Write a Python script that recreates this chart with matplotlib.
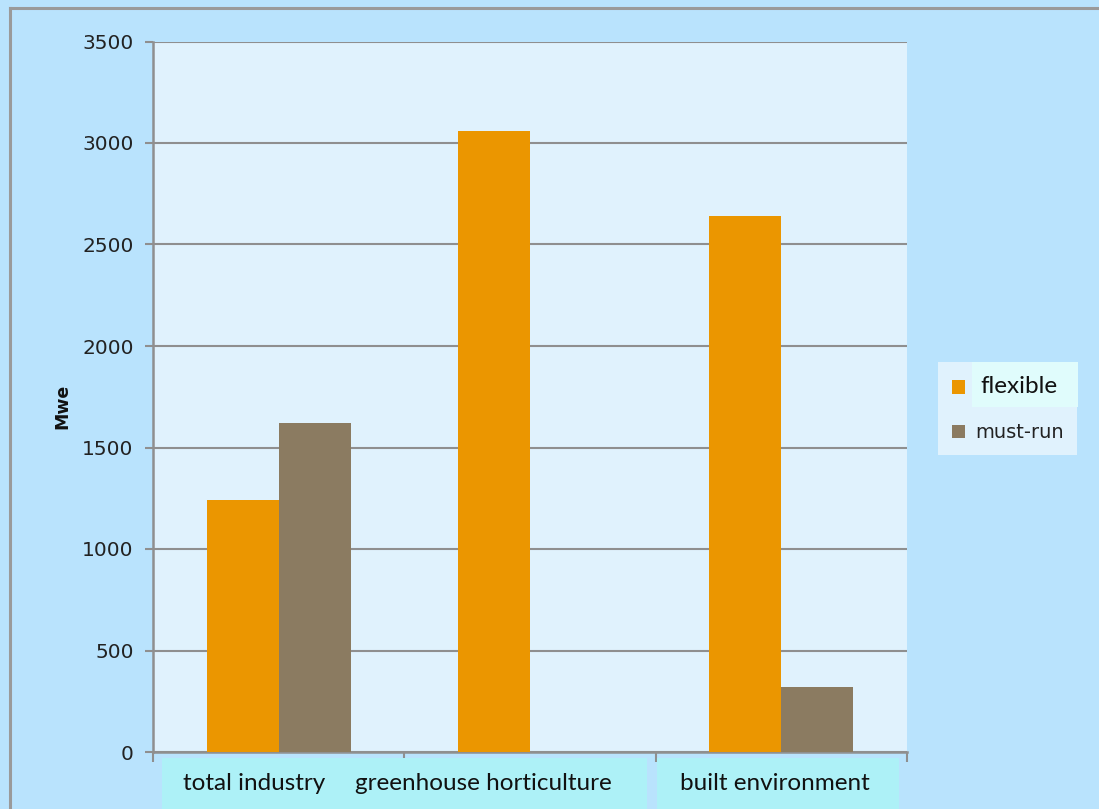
import matplotlib
matplotlib.use("Agg")
import matplotlib.pyplot as plt
import numpy as np
from matplotlib.patches import Rectangle
from matplotlib.lines import Line2D

categories = ["total industry", "greenhouse horticulture", "built environment"]
flexible = [1240, 3060, 2640]
must_run = [1620, 0, 320]
series_names = ["flexible", "must-run"]
y_ticks = [0, 500, 1000, 1500, 2000, 2500, 3000, 3500]
y_tick_labels = ["0", "500", "1000", "1500", "2000", "2500", "3000", "3500"]

W, H = 1099, 809
ORANGE = "#eb9600"
BROWN = "#8b7b61"
GRID = "#8f8f8f"


def fx(x):
    return x / W


def fy(y):
    return 1 - y / H


def box(x0, y0, x1, y1, color, **kw):
    fig.add_artist(Rectangle((fx(x0), fy(y1)), fx(x1) - fx(x0), fy(y0) - fy(y1),
                             transform=fig.transFigure, facecolor=color,
                             edgecolor="none", **kw))


fig = plt.figure(figsize=(W / 100, H / 100), dpi=100)
fig.patch.set_facecolor("#b9e3fd")

# outer chart border
fig.add_artist(Line2D([fx(10), fx(10)], [fy(8), 0], transform=fig.transFigure,
                      color="#9a9a9a", lw=2.2))
fig.add_artist(Line2D([fx(10), 1], [fy(8), fy(8)], transform=fig.transFigure,
                      color="#9a9a9a", lw=2.2))

ax = fig.add_axes([fx(153), fy(752), fx(907) - fx(153), fy(41.5) - fy(752)])
ax.set_facecolor("#e0f2fd")

x = np.arange(len(categories))
w = 0.287
ax.bar(x - w / 2, flexible, w, color=ORANGE, zorder=3, label=series_names[0])
ax.bar(x + w / 2, must_run, w, color=BROWN, zorder=3, label=series_names[1])

ax.set_xlim(-0.5, 2.5)
ax.set_ylim(0, 3500)
ax.set_yticks(y_ticks)
ax.set_yticklabels(y_tick_labels)
ax.grid(axis="y", color=GRID, lw=1.5, zorder=1)
ax.set_xticks([-0.5, 0.5, 1.5, 2.5])
ax.set_xticklabels([])
ax.tick_params(axis="x", direction="out", length=7, width=1.5, color=GRID)
ax.tick_params(axis="y", direction="out", length=6, width=1.5, color=GRID,
               labelsize=14.5, labelcolor="#222222", pad=8)
for s in ["top", "right"]:
    ax.spines[s].set_visible(False)
for s in ["left", "bottom"]:
    ax.spines[s].set_color(GRID)
    ax.spines[s].set_linewidth(1.8)

fig.text(fx(62), fy(406), "Mwe", rotation=90, ha="center", va="center",
         fontsize=12.5, fontweight="bold", color="#111111")

# category label boxes
box(162, 758, 647, 809, "#adf1f7")
box(657, 758, 899, 809, "#adf1f7")
label_x = [254, 483, 775]
for lx, name in zip(label_x, categories):
    fig.text(fx(lx), fy(784), name, ha="center", va="center",
             fontsize=17.5, family="Lato", color="#111111")

# legend
box(938, 362, 1077, 455, "#e0f2fd")
box(972, 362, 1078, 407, "#e0fcfc")
box(952, 380, 965, 394, ORANGE)
box(952, 425, 965, 438, BROWN)
fig.text(fx(980), fy(387), series_names[0], ha="left", va="center",
         fontsize=17.5, family="Lato", color="#111111")
fig.text(fx(975), fy(432), series_names[1], ha="left", va="center",
         fontsize=14, color="#222222")

fig.savefig("out.png", dpi=100, facecolor=fig.get_facecolor())
